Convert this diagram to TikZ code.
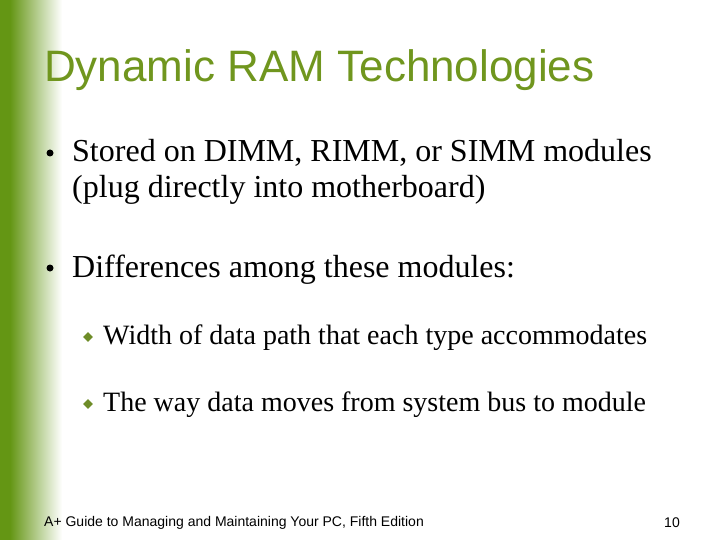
\documentclass[tikz,border=0pt]{standalone}
\usepackage{fontspec}
\setmainfont{Liberation Serif}
\newfontfamily\arial{Liberation Sans}
\usetikzlibrary{shapes.geometric}
\definecolor{tgreen}{RGB}{112,150,30}
\definecolor{bgreen}{RGB}{100,150,20}
\definecolor{dgreen}{RGB}{110,140,40}
\begin{document}
\begin{tikzpicture}[x=1pt,y=-1pt,
  body/.style={anchor=base west,inner sep=0pt,font=\fontsize{32}{34}\selectfont},
  sub/.style={anchor=base west,inner sep=0pt,font=\fontsize{28}{30}\selectfont},
  dia/.style={diamond,fill=dgreen,inner sep=0pt,minimum size=10pt}]
\useasboundingbox (0,0) rectangle (720,540);
\fill[white] (0,0) rectangle (720,540);
\fill[bgreen] (0,0) rectangle (10,540);
\shade[left color=bgreen,right color=white] (10,0) rectangle (62,540);
\node[anchor=base west,inner sep=0pt,text=tgreen,font=\arial\fontsize{44}{48}\selectfont] (title) at (44,82) {Dynamic RAM Technologies};
\fill (50,153) circle (3.5);
\node[body] (t1) at (72,162) {Stored on DIMM, RIMM, or SIMM modules};
\node[body] (t1b) at (72,197) {(plug directly into motherboard)};
\fill (50,268) circle (3.5);
\node[body] (t2) at (72,277) {Differences among these modules:};
\node[dia] (d1) at (88,337) {};
\node[sub] (s1) at (103,344) {Width of data path that each type accommodates};
\node[dia] (d2) at (88,404) {};
\node[sub] (s2) at (103,411) {The way data moves from system bus to module};
\node[anchor=base west,inner sep=0pt,font=\arial\fontsize{14}{16}\selectfont] (foot) at (44,526) {A+ Guide to Managing and Maintaining Your PC, Fifth Edition};
\node[anchor=base east,inner sep=0pt,font=\arial\fontsize{14}{16}\selectfont] (pg) at (680,527) {10};
\end{tikzpicture}
\end{document}
